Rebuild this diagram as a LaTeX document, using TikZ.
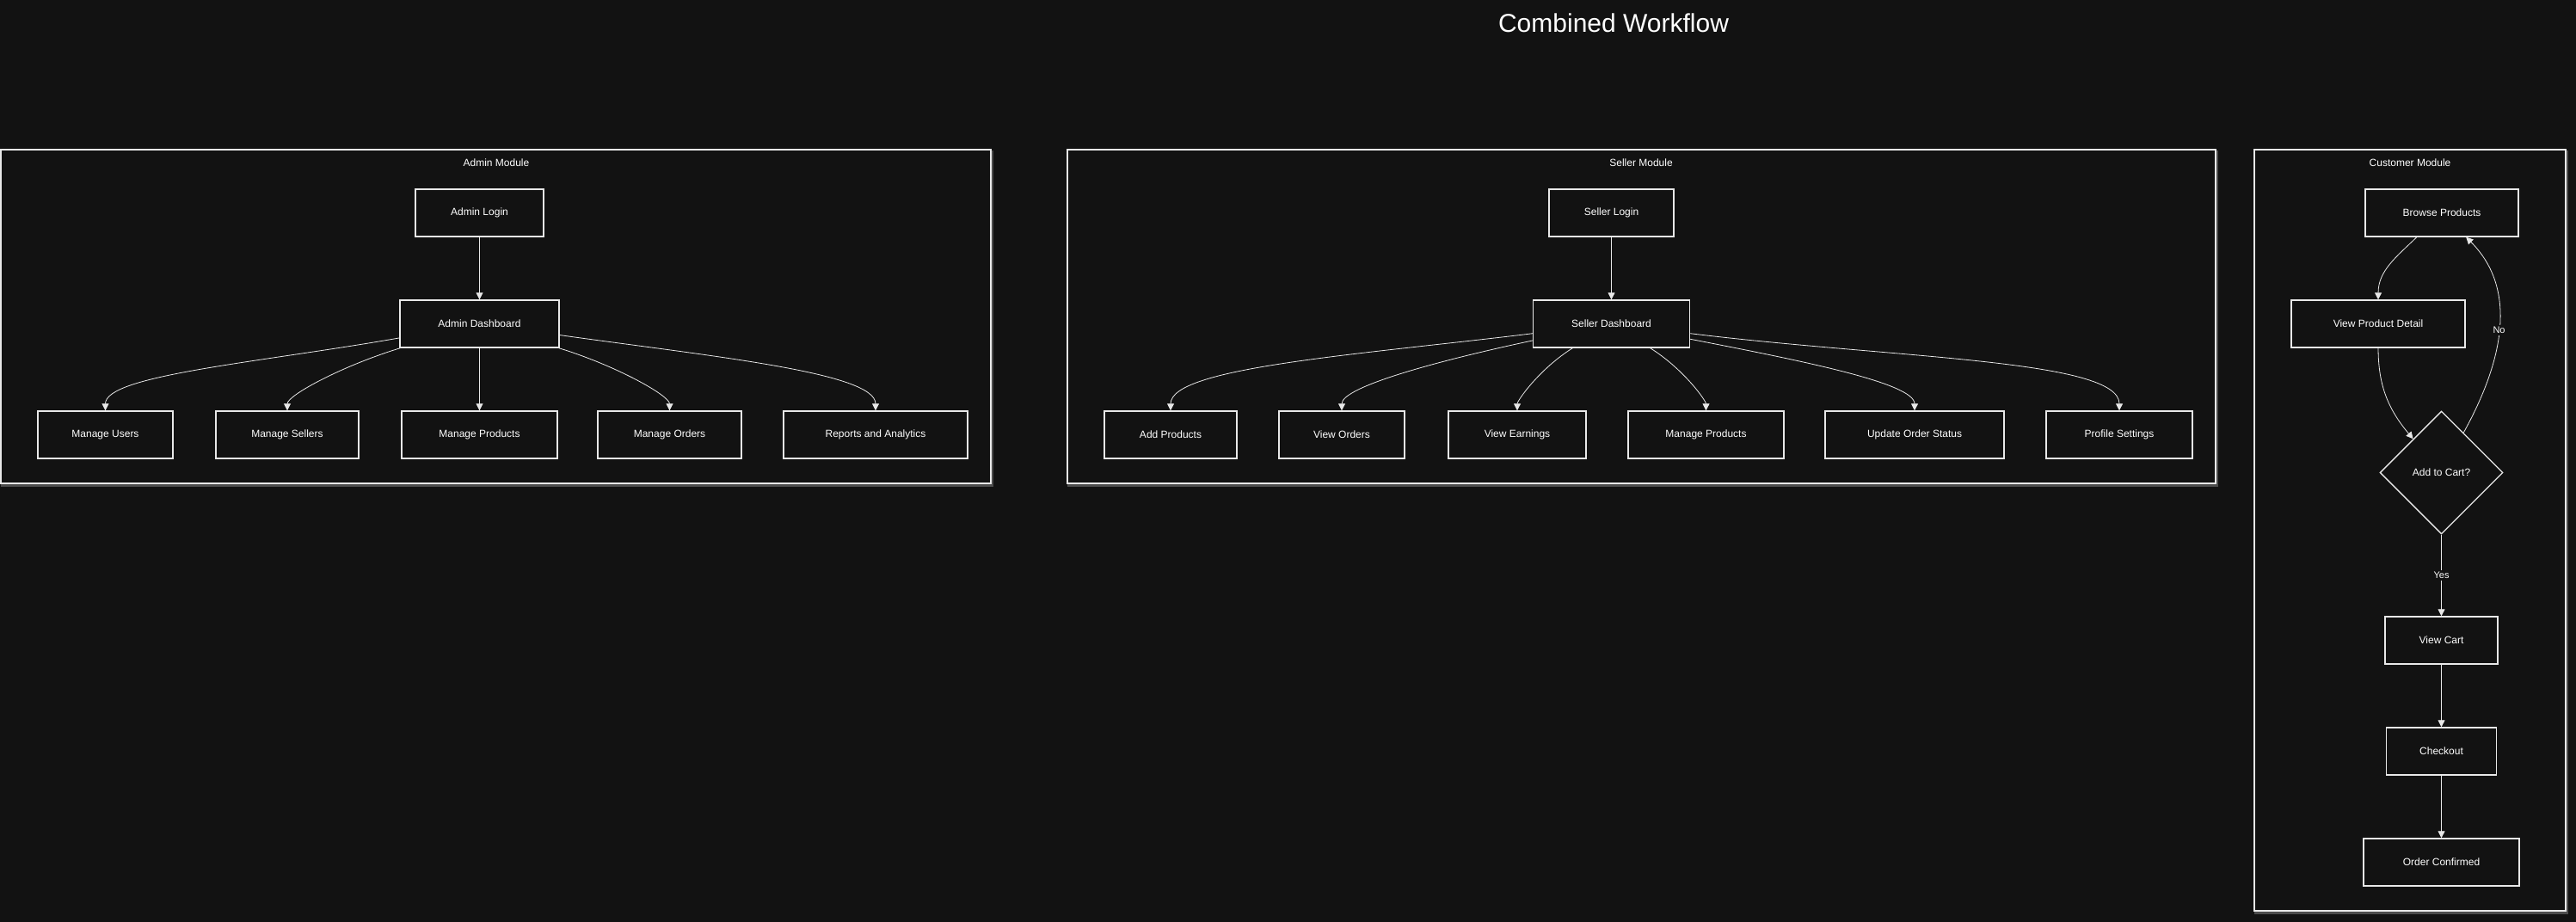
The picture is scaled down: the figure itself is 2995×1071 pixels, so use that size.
\documentclass[tikz,border=0pt]{standalone}
\usepackage{fontspec}
\setmainfont{Liberation Sans}
\usetikzlibrary{arrows.meta, positioning, shapes.geometric}
\definecolor{bg}{RGB}{18,18,18}
\definecolor{linecol}{RGB}{232,232,232}
\tikzset{
  >={Triangle[length=8pt,width=8pt,fill=linecol]}, % filled arrow heads
  box/.style={draw=linecol, line width=1.4pt, fill=bg, text=white,
    minimum height=55pt, inner sep=0pt,
    font=\fontsize{12}{14}\selectfont}, % one step of a workflow
  decision/.style={box, diamond, aspect=1,
    minimum width=143pt, minimum height=143pt}, % yes/no question
  module/.style={draw=linecol, line width=1.6pt, fill=bg,
    preaction={draw=gray!70, line width=3pt, opacity=0.4,
      transform canvas={xshift=1.5pt,yshift=-2pt}}}, % frame round a module
  modtitle/.style={text=white, font=\fontsize{12}{14}\selectfont},
  flow/.style={->, color=linecol, line width=0.8pt},
  fanout/.style={in=90, out looseness=1.2, in looseness=0.3}, % dashboard to its pages
  lab/.style={fill=bg, text=white, inner sep=2pt,
    font=\fontsize{11}{13}\selectfont},
}

\begin{document}
\begin{tikzpicture}[x=1pt, y=1pt]
    \useasboundingbox (0,0) rectangle (2995,-1071);
    \fill[bg] (-10,10) rectangle (3005,-1081);

    \node[text=white, font=\fontsize{30}{36}\selectfont] (title) at (1876,-27) {Combined Workflow};

    % frames
    \node[module, minimum width=1151pt, minimum height=388pt] (aframe) at (576.5,-368) {};
    \node[module, minimum width=1335pt, minimum height=388pt] (sframe) at (1908.5,-368) {};
    \node[module, minimum width=362pt, minimum height=885pt] (cframe) at (2802,-616.5) {};
    \node[modtitle] (atitle) at (577,-189) {Admin Module};
    \node[modtitle] (stitle) at (1908,-189) {Seller Module};
    \node[modtitle] (ctitle) at (2802,-189) {Customer Module};

    % admin
    \node[box, minimum width=149pt] (alogin) at (557.5,-247.5) {Admin Login};
    \node[box, minimum width=185pt, below=72.6pt of alogin] (adash) {Admin Dashboard};
    \node[box, minimum width=157pt] (users) at (122.5,-505.5) {Manage Users};
    \node[box, minimum width=166pt] (sellers) at (334,-505.5) {Manage Sellers};
    \node[box, minimum width=181pt] (aprod) at (557.5,-505.5) {Manage Products};
    \node[box, minimum width=167pt] (aorders) at (778.5,-505.5) {Manage Orders};
    \node[box, minimum width=214pt] (reports) at (1018,-505.5) {Reports and Analytics};

    % seller
    \node[box, minimum width=145pt] (slogin) at (1873.5,-247.5) {Seller Login};
    \node[box, minimum width=182pt, below=72.6pt of slogin] (sdash) {Seller Dashboard};
    \node[box, minimum width=154pt] (addp) at (1361,-505.5) {Add Products};
    \node[box, minimum width=146pt] (vorders) at (1560,-505.5) {View Orders};
    \node[box, minimum width=160pt] (earn) at (1764,-505.5) {View Earnings};
    \node[box, minimum width=181pt] (sprod) at (1983.5,-505.5) {Manage Products};
    \node[box, minimum width=208pt] (upd) at (2226,-505.5) {Update Order Status};
    \node[box, minimum width=170pt] (prof) at (2464,-505.5) {Profile Settings};

    % customer
    \node[box, minimum width=178pt] (browse) at (2839,-247.5) {Browse Products};
    \node[box, minimum width=202pt] (detail) at (2765,-376.5) {View Product Detail};
    \node[decision] (cart) at (2838.5,-549.5) {Add to Cart?};
    \node[box, minimum width=131pt] (vcart) at (2838.5,-744.5) {View Cart};
    \node[box, minimum width=128pt, below=72.6pt of vcart] (check) {Checkout};
    \node[box, minimum width=181pt, below=72.6pt of check] (conf) {Order Confirmed};

    \draw[flow]
    (alogin) edge (adash)
    (adash) edge[fanout, out=190] (users)
    (adash) edge[fanout, out=197] (sellers)
    (adash) edge (aprod)
    (adash) edge[fanout, out=343] (aorders)
    (adash) edge[fanout, out=352] (reports)
    (slogin) edge (sdash)
    (sdash) edge[fanout, out=187] (addp)
    (sdash) edge[fanout, out=192] (vorders)
    (sdash) edge[fanout, out=212] (earn)
    (sdash) edge[fanout, out=328] (sprod)
    (sdash) edge[fanout, out=349] (upd)
    (sdash) edge[fanout, out=353] (prof)
    (browse) edge[out=224, in=90] (detail)
    (detail) edge[out=270, in=130] (cart)
    (cart) edge[out=61, in=-45] node[lab] {No} (browse)
    (cart) edge node[lab] {Yes} (vcart)
    (vcart) edge (check)
    (check) edge (conf)
    ;

  \end{tikzpicture}
\end{document}
